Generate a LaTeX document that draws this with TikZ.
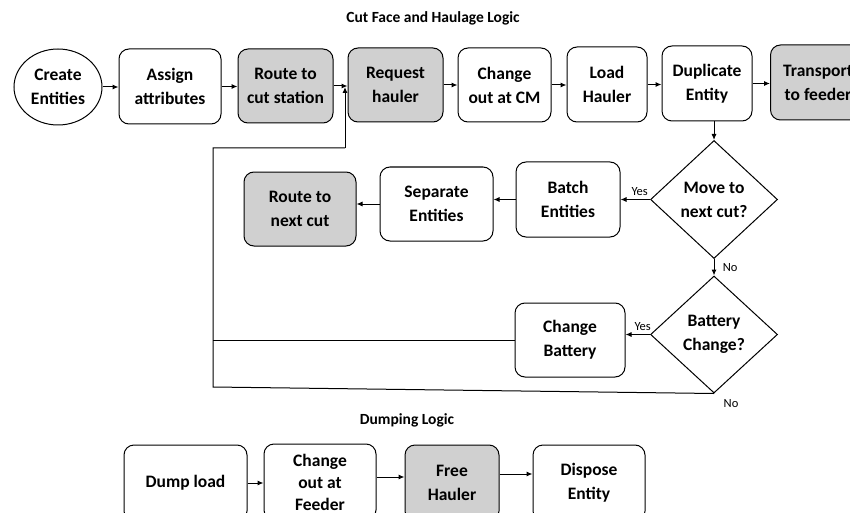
\documentclass[tikz,border=0pt]{standalone}
\usepackage{fontspec}
\setmainfont{Carlito}
\usetikzlibrary{arrows.meta,shapes.geometric}
\definecolor{shade}{RGB}{208,208,208}
\begin{document}
\begin{tikzpicture}[x=1pt,y=-1pt,
  line width=1pt,
  every node/.style={align=center,
    font=\fontsize{17.5}{24}\selectfont\bfseries},
  proc/.style={draw, rounded corners=10pt, inner sep=0pt},
  grey/.style={proc, fill=shade},
  decide/.style={draw, diamond, inner sep=0pt},
  arr/.style={-{Latex[length=6pt,width=5pt]}},
  lbl/.style={font=\fontsize{12.5}{14}\selectfont},
  title/.style={font=\fontsize{15.5}{18}\selectfont\bfseries}]
\clip (0,0) rectangle (850,513);
\fill[white] (0,0) rectangle (850,513);

% titles
\node[title] (t1) at (433,18) {Cut Face and Haulage Logic};
\node[title] (t2) at (407,420) {Dumping Logic};

% cut face row
\node[draw, ellipse, inner sep=0pt, minimum width=88pt, minimum height=76pt]
  (create) at (58,87) {Create\\Entities};
\node[proc, minimum width=102pt, minimum height=75pt] (assign) at (170,86.5) {Assign\\attributes};
\node[grey, minimum width=95pt, minimum height=74pt] (route) at (285.5,86) {Route to\\cut station};
\node[grey, minimum width=95pt, minimum height=74pt] (request) at (395.5,85) {Request\\hauler};
\node[proc, minimum width=93pt, minimum height=74pt] (changecm) at (504.5,85) {Change\\out at CM};
\node[proc, minimum width=80pt, minimum height=75pt] (load) at (607,84.5) {Load\\Hauler};
\node[proc, minimum width=90pt, minimum height=75pt] (dup) at (707,83.5) {Duplicate\\Entity};
\node[grey, minimum width=95pt, minimum height=75pt] (transport) at (818,82.5) {Transport\\to feeder};

% decisions and branches
\node[decide, minimum width=127pt, minimum height=118pt] (movecut) at (714,199.5) {Move to\\next cut?};
\node[proc, minimum width=104pt, minimum height=75pt] (batch) at (568,199.5) {Batch\\Entities};
\node[proc, minimum width=113pt, minimum height=74pt] (separate) at (436.5,204) {Separate\\Entities};
\node[grey, minimum width=112pt, minimum height=74pt] (routenext) at (300,209) {Route to\\next cut};

\node[decide, minimum width=127pt, minimum height=117pt] (battery) at (714,334.5) {Battery\\Change?};
\node[proc, minimum width=110pt, minimum height=74pt] (changebatt) at (570,340) {Change\\Battery};

% dumping row
\node[proc, minimum width=123pt, minimum height=76pt] (dump) at (185.5,483) {Dump load};
\node[proc, minimum width=112pt, minimum height=76pt,
  font=\fontsize{17.5}{22}\selectfont\bfseries] (feeder) at (320,482) {Change\\out at\\Feeder};
\node[grey, minimum width=94pt, minimum height=76pt] (free) at (452,483) {Free\\Hauler};
\node[proc, minimum width=112pt, minimum height=76pt] (dispose) at (589,483) {Dispose\\Entity};

% top row flow
\draw[arr] (create.east) -- (assign.west |- create.east);
\draw[arr] (assign.east) -- (route.west |- assign.east);
\draw[arr] (route.east) -- (request.west |- route.east);
\draw[arr] (request.east) -- (changecm.west |- request.east);
\draw[arr] (changecm.east) -- (load.west |- changecm.east);
\draw[arr] (load.east) -- (dup.west |- load.east);
\draw[arr] (dup.east) -- (transport.west |- dup.east);

% decision flow
\draw[arr] (dup.south -| movecut.north) -- (movecut.north);
\draw[arr] (movecut.west) -- (batch.east |- movecut.west)
  node[lbl, pos=0.35, above] {Yes};
\draw[arr] (batch.west) -- (separate.east |- batch.west);
\draw[arr] (separate.west) -- (routenext.east |- separate.west);
\draw[arr] (movecut.south) -- (battery.north)
  node[lbl, midway, right=5pt] {No};
\draw[arr] (battery.west) -- (changebatt.east |- battery.west)
  node[lbl, pos=0.3, above] {Yes};

% return loop to the request step
\coordinate (lbot) at (213,387);
\coordinate (lmid) at (213,340);
\coordinate (ltop) at (213,148);
\coordinate (jn) at (345,148);
\coordinate (jtop) at (345,87);
\draw (battery.south) -- (lbot) -- (ltop) -- (jn);
\draw[arr] (jn) -- (jtop);
\draw (changebatt.west) -- (lmid);
\node[lbl] (noB) at (731,404) {No};

% dumping flow
\draw[arr] (dump.east |- 0,483) -- (feeder.west |- 0,483);
\draw[arr] (feeder.east |- 0,477) -- (free.west |- 0,477);
\draw[arr] (free.east |- 0,474) -- (dispose.west |- 0,474);
\end{tikzpicture}
\end{document}
